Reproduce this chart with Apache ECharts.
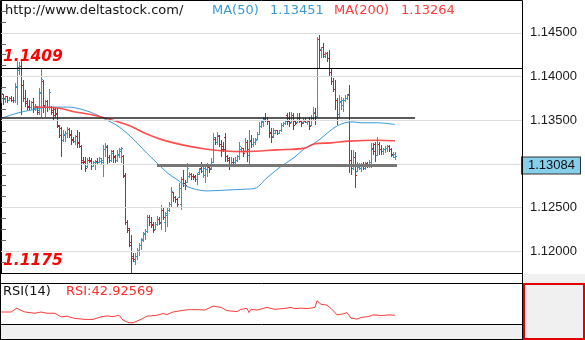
<!DOCTYPE html>
<html>
<head>
<meta charset="utf-8">
<script src="https://cdn.jsdelivr.net/npm/echarts@6/dist/echarts.min.js"></script>
<style>
  html, body { margin: 0; padding: 0; background: #ffffff; }
  #chart { width: 585px; height: 340px; }
</style>
</head>
<body>
<div id="chart"></div>
<script>
// ---- Price bars (OHLC), one entry per bar ----
const open = [
  1.1373,1.1379,1.1374,1.1377,1.1373,1.1375,1.1373,1.1373,1.1387,1.1407,
  1.1412,1.1390,1.1375,1.1371,1.1366,1.1365,1.1370,1.1363,1.1365,1.1361,
  1.1380,1.1394,1.1366,1.1371,1.1365,1.1365,1.1361,1.1362,1.1358,1.1343,
  1.1340,1.1327,1.1332,1.1335,1.1339,1.1334,1.1328,1.1326,1.1331,1.1325,
  1.1320,1.1304,1.1303,1.1297,1.1304,1.1304,1.1297,1.1299,1.1303,1.1302,
  1.1303,1.1302,1.1316,1.1319,1.1307,1.1304,1.1314,1.1308,1.1304,1.1310,
  1.1314,1.1308,1.1287,1.1233,1.1224,1.1210,1.1194,1.1188,1.1194,1.1200,
  1.1206,1.1212,1.1219,1.1222,1.1238,1.1233,1.1230,1.1225,1.1230,1.1236,
  1.1232,1.1247,1.1233,1.1241,1.1247,1.1253,1.1267,1.1261,1.1259,1.1262,
  1.1253,1.1282,1.1278,1.1279,1.1285,1.1288,1.1286,1.1285,1.1282,1.1290,
  1.1295,1.1291,1.1287,1.1293,1.1296,1.1295,1.1302,1.1328,1.1324,1.1331,
  1.1322,1.1320,1.1330,1.1308,1.1306,1.1297,1.1302,1.1301,1.1304,1.1308,
  1.1316,1.1317,1.1314,1.1324,1.1310,1.1326,1.1322,1.1325,1.1328,1.1334,
  1.1343,1.1347,1.1352,1.1350,1.1348,1.1336,1.1331,1.1335,1.1338,1.1335,
  1.1338,1.1344,1.1346,1.1355,1.1352,1.1347,1.1355,1.1349,1.1347,1.1352,
  1.1349,1.1347,1.1349,1.1347,1.1349,1.1344,1.1352,1.1358,1.1354,1.1442,
  1.1431,1.1433,1.1423,1.1426,1.1421,1.1405,1.1394,1.1385,1.1373,1.1357,
  1.1370,1.1367,1.1373,1.1375,1.1379,1.1304,1.1295,1.1307,1.1291,1.1296,
  1.1295,1.1297,1.1295,1.1300,1.1297,1.1299,1.1318,1.1322,1.1310,1.1322,
  1.1316,1.1314,1.1316,1.1318,1.1320,1.1316,1.1309,1.1307
];
const close = [
  1.1381,1.1374,1.1377,1.1372,1.1375,1.1373,1.1372,1.1389,1.1410,1.1412,
  1.1390,1.1375,1.1369,1.1365,1.1364,1.1370,1.1362,1.1366,1.1359,1.1382,
  1.1396,1.1367,1.1371,1.1364,1.1382,1.1359,1.1355,1.1357,1.1344,1.1333,
  1.1327,1.1334,1.1335,1.1339,1.1333,1.1327,1.1326,1.1331,1.1323,1.1320,
  1.1302,1.1302,1.1295,1.1304,1.1303,1.1297,1.1301,1.1302,1.1301,1.1306,
  1.1304,1.1316,1.1320,1.1307,1.1304,1.1312,1.1307,1.1304,1.1311,1.1316,
  1.1317,1.1286,1.1233,1.1226,1.1207,1.1192,1.1190,1.1194,1.1201,1.1206,
  1.1213,1.1220,1.1222,1.1238,1.1233,1.1229,1.1224,1.1231,1.1236,1.1233,
  1.1247,1.1239,1.1243,1.1247,1.1254,1.1268,1.1261,1.1259,1.1254,1.1272,
  1.1282,1.1278,1.1275,1.1295,1.1288,1.1286,1.1284,1.1282,1.1288,1.1294,
  1.1291,1.1295,1.1293,1.1297,1.1293,1.1302,1.1330,1.1324,1.1332,1.1322,
  1.1316,1.1316,1.1308,1.1304,1.1299,1.1302,1.1301,1.1304,1.1308,1.1320,
  1.1318,1.1312,1.1324,1.1316,1.1327,1.1322,1.1325,1.1327,1.1334,1.1343,
  1.1348,1.1351,1.1350,1.1348,1.1335,1.1330,1.1338,1.1338,1.1335,1.1338,
  1.1344,1.1346,1.1348,1.1348,1.1346,1.1355,1.1344,1.1346,1.1352,1.1349,
  1.1346,1.1349,1.1347,1.1349,1.1343,1.1352,1.1359,1.1350,1.1442,1.1430,
  1.1433,1.1425,1.1426,1.1421,1.1405,1.1394,1.1385,1.1373,1.1356,1.1371,
  1.1373,1.1373,1.1375,1.1378,1.1304,1.1299,1.1307,1.1287,1.1299,1.1299,
  1.1297,1.1295,1.1300,1.1297,1.1301,1.1316,1.1314,1.1310,1.1322,1.1316,
  1.1314,1.1316,1.1318,1.1320,1.1316,1.1311,1.1311,1.13084
];
const low = [
  1.1370,1.1367,1.1370,1.1370,1.1372,1.1371,1.1370,1.1370,1.1367,1.1402,
  1.1356,1.1371,1.1365,1.1362,1.1362,1.1362,1.1358,1.1361,1.1356,1.1356,
  1.1354,1.1358,1.1354,1.1359,1.1362,1.1356,1.1350,1.1352,1.1341,1.1330,
  1.1308,1.1325,1.1325,1.1330,1.1330,1.1322,1.1324,1.1322,1.1318,1.1318,
  1.1293,1.1300,1.1291,1.1295,1.1301,1.1293,1.1296,1.1293,1.1299,1.1301,
  1.1299,1.1285,1.1308,1.1299,1.1301,1.1302,1.1301,1.1301,1.1302,1.1307,
  1.1301,1.1284,1.1230,1.1221,1.1205,1.1175,1.1188,1.1184,1.1190,1.1194,
  1.1201,1.1210,1.1213,1.1221,1.1229,1.1226,1.1221,1.1224,1.1229,1.1230,
  1.1224,1.1236,1.1222,1.1228,1.1245,1.1249,1.1256,1.1255,1.1249,1.1261,
  1.1247,1.1273,1.1270,1.1278,1.1284,1.1282,1.1282,1.1279,1.1276,1.1287,
  1.1290,1.1284,1.1278,1.1285,1.1290,1.1293,1.1301,1.1322,1.1322,1.1319,
  1.1308,1.1314,1.1302,1.1302,1.1293,1.1296,1.1299,1.1299,1.1302,1.1304,
  1.1314,1.1308,1.1314,1.1302,1.1299,1.1318,1.1319,1.1322,1.1327,1.1333,
  1.1341,1.1342,1.1348,1.1344,1.1330,1.1324,1.1330,1.1334,1.1333,1.1334,
  1.1336,1.1342,1.1344,1.1344,1.1342,1.1347,1.1339,1.1344,1.1347,1.1347,
  1.1342,1.1346,1.1347,1.1344,1.1339,1.1343,1.1350,1.1344,1.1352,1.1410,
  1.1421,1.1421,1.1421,1.1417,1.1399,1.1390,1.1382,1.1362,1.1344,1.1352,
  1.1362,1.1359,1.1371,1.1373,1.1290,1.1287,1.1293,1.1272,1.1291,1.1293,
  1.1291,1.1293,1.1293,1.1295,1.1295,1.1295,1.1310,1.1302,1.1309,1.1310,
  1.1310,1.1310,1.1312,1.1314,1.1314,1.1308,1.1307,1.1304
];
const high = [
  1.1386,1.1380,1.1378,1.1378,1.1377,1.1378,1.1377,1.1393,1.1418,1.1417,
  1.1418,1.1396,1.1385,1.1375,1.1373,1.1372,1.1375,1.1369,1.1366,1.1387,
  1.1410,1.1396,1.1373,1.1373,1.1386,1.1366,1.1365,1.1365,1.1364,1.1344,
  1.1342,1.1339,1.1338,1.1342,1.1341,1.1339,1.1331,1.1333,1.1339,1.1336,
  1.1322,1.1308,1.1308,1.1307,1.1308,1.1307,1.1303,1.1304,1.1307,1.1308,
  1.1307,1.1322,1.1324,1.1322,1.1310,1.1316,1.1316,1.1310,1.1316,1.1318,
  1.1319,1.1310,1.1290,1.1236,1.1226,1.1219,1.1198,1.1198,1.1204,1.1209,
  1.1215,1.1222,1.1225,1.1241,1.1241,1.1239,1.1233,1.1233,1.1240,1.1239,
  1.1253,1.1251,1.1245,1.1249,1.1256,1.1273,1.1268,1.1263,1.1261,1.1278,
  1.1285,1.1293,1.1282,1.1301,1.1291,1.1290,1.1288,1.1287,1.1290,1.1295,
  1.1302,1.1299,1.1296,1.1301,1.1300,1.1307,1.1335,1.1331,1.1336,1.1333,
  1.1327,1.1325,1.1335,1.1310,1.1308,1.1308,1.1307,1.1308,1.1310,1.1325,
  1.1319,1.1318,1.1330,1.1327,1.1339,1.1333,1.1330,1.1330,1.1336,1.1348,
  1.1350,1.1354,1.1358,1.1354,1.1350,1.1341,1.1341,1.1339,1.1339,1.1339,
  1.1347,1.1348,1.1349,1.1358,1.1359,1.1359,1.1358,1.1350,1.1358,1.1358,
  1.1350,1.1352,1.1352,1.1350,1.1354,1.1356,1.1365,1.1364,1.1445,1.1448,
  1.1434,1.1438,1.1428,1.1428,1.1430,1.1410,1.1398,1.1396,1.1375,1.1379,
  1.1377,1.1375,1.1379,1.1380,1.1390,1.1316,1.1316,1.1314,1.1302,1.1301,
  1.1301,1.1302,1.1302,1.1302,1.1304,1.1324,1.1324,1.1325,1.1331,1.1325,
  1.1322,1.1318,1.1320,1.1322,1.1322,1.1318,1.1314,1.1314
];

// ---- Moving averages, sampled along the bar index ----
const ma50Idx = [0, 8, 16, 25, 33, 41, 48, 53, 58, 63, 68, 73, 78, 83, 88, 93, 103, 113, 122, 127, 133, 140, 147, 152, 157, 162, 167, 172, 176, 180, 188, 197];
const ma50    = [1.1352, 1.1358, 1.1362, 1.1365, 1.1365, 1.1362, 1.1356, 1.1350, 1.1344, 1.1335, 1.1324, 1.1312, 1.1301, 1.1290, 1.1282, 1.1274, 1.1269, 1.1270, 1.1271, 1.1272, 1.1284, 1.1297, 1.1308, 1.1318, 1.1324, 1.1333, 1.1342, 1.1347, 1.1348, 1.1347, 1.1347, 1.13451];
const ma200Idx = [16, 28, 38, 46, 53, 60, 65, 72, 80, 90, 102, 110, 122, 138, 152, 157, 165, 174, 188, 197];
const ma200    = [1.1365, 1.1364, 1.1359, 1.1356, 1.1352, 1.1347, 1.1343, 1.1335, 1.1328, 1.1322, 1.1317, 1.1315, 1.1314, 1.1316, 1.1318, 1.1323, 1.1324, 1.1326, 1.1327, 1.13264];

// ---- RSI(14), sampled along the bar index ----
const rsiIdx = [0,5,8,10,12,17,20,23,27,30,33,37,42,46,50,53,56,59,61,64,66,70,73,78,81,83,86,91,94,98,102,106,110,113,118,120,123,124,125,128,133,137,142,145,147,150,153,157,158,160,163,165,168,171,173,175,178,180,184,186,190,194,197];
const rsi    = [48.9,48.9,56.0,51.9,48.9,46.6,48.9,46.6,46.6,40.0,41.2,37.1,35.4,35.4,40.0,41.8,40.4,43.0,34.1,29.3,29.3,35.4,41.2,43.0,46.0,44.3,48.9,51.9,53.2,53.2,52.5,59.6,57.3,51.4,49.6,53.7,55.5,47.8,53.7,52.5,57.3,53.7,55.5,57.3,55.0,56.0,55.0,57.3,69.2,63.1,61.4,55.5,43.6,45.3,47.8,37.7,35.9,38.9,40.7,43.6,42.5,43.6,42.92569];

// ---- Reference levels and axis ticks ----
const rangeLevels = [1.1409, 1.1175];   // labelled high / low
const channelTop = 1.1353;
const channelBottom = 1.1298;
const priceTicks = [1.12, 1.125, 1.13, 1.135, 1.14, 1.145];
const priceMin = 1.1175, priceMax = 1.14876;
const slotCount = 261;                    // bar slots across the price pane

const UP = '#2E96D4', DOWN = '#B3262B';
const MA50_COLOR = '#3A9AD9', MA200_COLOR = '#FF3B3B';

const bars = open.map((o, i) => [i, o, close[i], low[i], high[i]]);
const pairs = (idx, vals) => idx.map((x, k) => [x, vals[k]]);
const lastClose = close[close.length - 1];

// minor ticks: four steps per labelled interval
const step = (priceTicks[1] - priceTicks[0]) / 4;
const minorTicks = [];
for (let k = 0; ; k++) {
  const v = +(priceTicks[0] - step + k * step).toFixed(6);
  if (v > priceMax) break;
  if (v >= priceMin) minorTicks.push(v);
}

function drawBar(params, api) {
  const i = api.value(0), o = api.value(1), c = api.value(2), l = api.value(3), h = api.value(4);
  const pTop = api.coord([i, h]);
  const yBot = api.coord([i, l])[1];
  const yo = api.coord([i, o])[1];
  const yc = api.coord([i, c])[1];
  const x = Math.floor(pTop[0]);
  const yt = Math.round(pTop[1]);
  const yb = Math.max(Math.round(yBot), yt + 1);
  const color = c >= o ? UP : DOWN;
  return {
    type: 'group',
    children: [
      { type: 'rect', shape: { x: x, y: yt, width: 1, height: yb - yt }, style: { fill: color } },
      { type: 'rect', shape: { x: x - 1, y: Math.floor(yo), width: 1, height: 1 }, style: { fill: color } },
      { type: 'rect', shape: { x: x + 1, y: Math.floor(yc), width: 1, height: 1 }, style: { fill: color } }
    ]
  };
}

const levelLabel = {
  show: true, position: 'insideStartTop', formatter: p => p.value.toFixed(4), distance: [3, 4],
  color: '#FF0000', fontFamily: 'DejaVu Sans', fontStyle: 'italic', fontWeight: 'bold', fontSize: 15.5
};

const gridLine = { color: '#DCDCDC', width: 1, type: 'solid' };

const chart = echarts.init(document.getElementById('chart'), null, { renderer: 'canvas' });

chart.setOption({
  animation: false,
  backgroundColor: '#ffffff',
  grid: [
    { left: 0, top: 0, width: 522, height: 273 },
    { left: 0, top: 284, width: 522, height: 40 }
  ],
  xAxis: [
    { type: 'value', gridIndex: 0, min: -0.5, max: slotCount - 0.5, show: false },
    { type: 'value', gridIndex: 1, min: -0.5, max: slotCount - 0.5, show: false }
  ],
  yAxis: [
    {
      type: 'value', gridIndex: 0, position: 'right', min: priceMin, max: priceMax, scale: true,
      axisLine: { show: true, lineStyle: { color: '#000', width: 1 } },
      axisTick: { show: true, inside: false, length: 5, customValues: minorTicks, lineStyle: { color: '#666' } },
      axisLabel: {
        customValues: priceTicks, margin: 8, color: '#1a1a1a',
        fontFamily: 'Liberation Sans', fontSize: 13,
        formatter: v => v.toFixed(5)
      },
      splitLine: { show: false }
    },
    { type: 'value', gridIndex: 1, min: 27, max: 100, show: false }
  ],
  series: [
    {
      name: 'grid', type: 'line', xAxisIndex: 0, yAxisIndex: 0, data: [], z: 1, silent: true, clip: false,
      markLine: {
        silent: true, symbol: ['none', 'none'], animation: false, precision: 5,
        data: priceTicks.map(v => ({ yAxis: v, lineStyle: gridLine, label: { show: false } }))
      }
    },
    {
      name: 'price', type: 'custom', xAxisIndex: 0, yAxisIndex: 0, z: 2,
      renderItem: drawBar, data: bars, encode: { x: 0, y: [1, 2, 3, 4] }
    },
    {
      name: 'MA(50)', type: 'line', xAxisIndex: 0, yAxisIndex: 0, z: 3,
      data: pairs(ma50Idx, ma50), smooth: 0.35, symbol: 'none',
      lineStyle: { color: MA50_COLOR, width: 1 }
    },
    {
      name: 'MA(200)', type: 'line', xAxisIndex: 0, yAxisIndex: 0, z: 3,
      data: pairs(ma200Idx, ma200), smooth: 0.35, symbol: 'none',
      lineStyle: { color: MA200_COLOR, width: 1.6, opacity: 0.9 }
    },
    {
      name: 'levels', type: 'line', xAxisIndex: 0, yAxisIndex: 0, data: [], z: 4, silent: true, clip: false,
      markLine: {
        silent: true, symbol: ['none', 'none'], animation: false, precision: 5,
        data: [
          { yAxis: rangeLevels[0], lineStyle: { color: '#000', width: 1, type: 'solid' }, label: levelLabel },
          { yAxis: rangeLevels[1], lineStyle: { color: '#000', width: 1, type: 'solid' }, label: levelLabel },
          [
            { coord: [-0.5, channelTop], lineStyle: { color: '#222', width: 1.5, type: 'solid' }, label: { show: false } },
            { coord: [207, channelTop] }
          ],
          [
            { coord: [78, channelBottom], lineStyle: { color: '#777', width: 3, type: 'solid' }, label: { show: false } },
            { coord: [198, channelBottom] }
          ]
        ]
      }
    },
    {
      // last-price tag on the right scale
      name: 'last', type: 'line', xAxisIndex: 0, yAxisIndex: 0, data: [], z: 12, silent: true, clip: false,
      markLine: {
        silent: true, symbol: ['none', 'none'], animation: false, precision: 5,
        data: [{
          yAxis: lastClose,
          lineStyle: { color: 'rgba(0,0,0,0)', width: 0 },
          label: {
            show: true, position: 'end', distance: 0, offset: [0, 9],
            formatter: () => lastClose.toFixed(5),
            backgroundColor: '#87CEEB', borderColor: '#333', borderWidth: 1,
            padding: [2, 5, 1, 6], color: '#111',
            fontFamily: 'Liberation Sans', fontSize: 13
          }
        }]
      }
    },
    {
      name: 'RSI', type: 'line', xAxisIndex: 1, yAxisIndex: 1, z: 3,
      data: pairs(rsiIdx, rsi), symbol: 'none',
      lineStyle: { color: '#FF3B3B', width: 1 }
    }
  ],
  graphic: [
    // pane frames and side panels
    { type: 'rect', shape: { x: 523, y: 274, width: 62, height: 10 }, style: { fill: '#F0F0F0' }, z: -1 },
    { type: 'rect', shape: { x: 0, y: 325, width: 522, height: 15 }, style: { fill: '#F0F0F0' }, z: -1 },
    { type: 'rect', shape: { x: 0.5, y: 0.5, width: 522, height: 273 }, style: { fill: null, stroke: '#000', lineWidth: 1 }, z: 10 },
    { type: 'rect', shape: { x: 0.5, y: 283.5, width: 522, height: 41 }, style: { fill: null, stroke: '#000', lineWidth: 1 }, z: 10 },
    { type: 'line', shape: { x1: 0.5, y1: 273, x2: 0.5, y2: 340 }, style: { stroke: '#000', lineWidth: 1 }, z: 10 },
    { type: 'line', shape: { x1: 522.5, y1: 273, x2: 522.5, y2: 340 }, style: { stroke: '#000', lineWidth: 1 }, z: 10 },
    { type: 'line', shape: { x1: 0, y1: 339.5, x2: 522, y2: 339.5 }, style: { stroke: '#000', lineWidth: 1 }, z: 10 },
    { type: 'rect', shape: { x: 524, y: 284, width: 60, height: 55 }, style: { fill: '#F0F0F0', stroke: '#E00000', lineWidth: 2 }, z: 10 },
    // header texts
    { type: 'text', x: 5, y: 10.5, style: { text: 'http://www.deltastock.com/', fill: '#111', font: '13px "DejaVu Sans"', verticalAlign: 'middle' }, z: 11 },
    { type: 'text', x: 212, y: 10.5, style: { text: 'MA(50)', fill: MA50_COLOR, font: '13px "DejaVu Sans"', verticalAlign: 'middle' }, z: 11 },
    { type: 'text', x: 270, y: 10.5, style: { text: ma50[ma50.length - 1].toFixed(5), fill: MA50_COLOR, font: '13px "DejaVu Sans"', verticalAlign: 'middle' }, z: 11 },
    { type: 'text', x: 334, y: 10.5, style: { text: 'MA(200)', fill: MA200_COLOR, font: '13px "DejaVu Sans"', verticalAlign: 'middle' }, z: 11 },
    { type: 'text', x: 401, y: 10.5, style: { text: ma200[ma200.length - 1].toFixed(5), fill: MA200_COLOR, font: '13px "DejaVu Sans"', verticalAlign: 'middle' }, z: 11 },
    { type: 'text', x: 3, y: 291.5, style: { text: 'RSI(14)', fill: '#111', font: '13px "DejaVu Sans"', verticalAlign: 'middle' }, z: 11 },
    { type: 'text', x: 66, y: 291.5, style: { text: 'RSI:' + rsi[rsi.length - 1].toFixed(5), fill: '#FF2A2A', font: '13px "DejaVu Sans"', verticalAlign: 'middle' }, z: 11 }
  ]
});
</script>
</body>
</html>
